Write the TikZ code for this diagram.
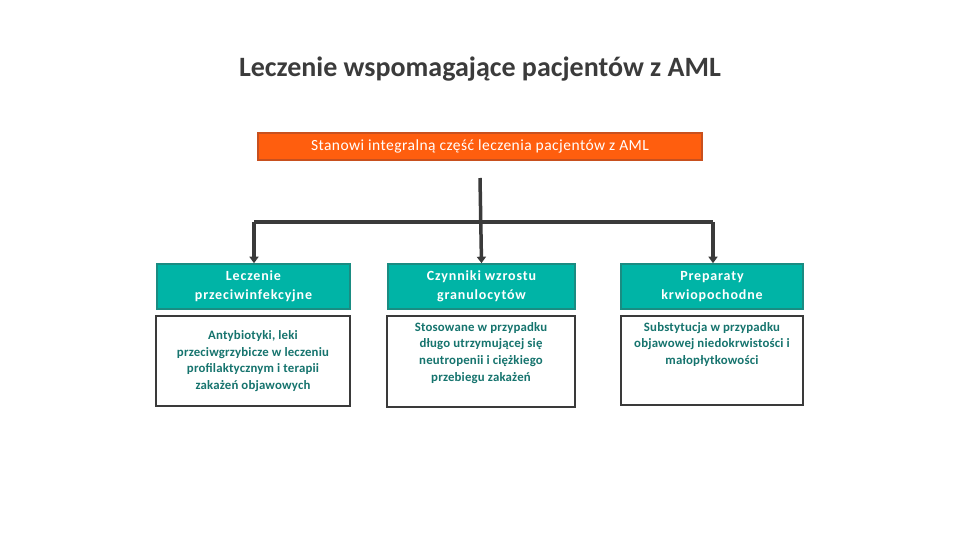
\documentclass[tikz,border=0pt]{standalone}
\usepackage{fontspec}
\setmainfont{Carlito}
\newfontfamily\hdfont[LetterSpace=6]{Carlito}
\newfontfamily\orfont[LetterSpace=3]{Carlito}
\newfontfamily\bdfont[LetterSpace=1.5]{Carlito}
\usetikzlibrary{arrows.meta}
\definecolor{titlegray}{HTML}{3B3B3B}
\definecolor{orfill}{HTML}{FF5E0E}
\definecolor{ordraw}{HTML}{C8501E}
\definecolor{tealfill}{HTML}{00B4A6}
\definecolor{tealdraw}{HTML}{1A8C82}
\definecolor{tealtext}{HTML}{16746E}
\definecolor{linegray}{HTML}{3A3A3A}
\tikzset{
  head/.style={fill=tealfill, draw=tealdraw, line width=1.6pt, text=white, align=center, font=\hdfont\fontsize{14}{19}\selectfont\bfseries, inner sep=0pt},
  body/.style={fill=white, draw=linegray, line width=1.8pt, inner sep=0pt},
  bodytext/.style={text=tealtext, align=center, font=\bdfont\fontsize{12.8}{16.8}\selectfont\bfseries, inner sep=0pt},
  conn/.style={draw=linegray, line width=3.5pt, -{Triangle[length=6.5pt,width=9pt]}},
}
\begin{document}
\begin{tikzpicture}[x=1pt,y=-1pt]
\useasboundingbox (0,0) rectangle (960,540);
\node[font=\fontsize{28}{32}\selectfont\bfseries, text=titlegray] (title) at (480,69) {Leczenie wspomagające pacjentów z AML};
\node[fill=orfill, draw=ordraw, line width=2pt, minimum width=444pt, minimum height=27pt, inner sep=0pt, text=white, font=\orfont\fontsize{15.5}{18}\selectfont] (top) at (480,146.5) {Stanowi integralną część leczenia pacjentów z AML};
% teal headers
\node[head, minimum width=193pt, minimum height=45pt] (h1) at (253.5,286.5) {Leczenie\\przeciwinfekcyjne};
\node[head, minimum width=187pt, minimum height=45pt] (h2) at (481.5,286.5) {Czynniki wzrostu\\granulocytów};
\node[head, minimum width=182pt, minimum height=45pt] (h3) at (712,286.5) {Preparaty\\krwiopochodne};
% bodies
\node[body, minimum width=194pt, minimum height=90pt] (b1) at (253,361) {};
\node[bodytext] (t1) at (b1.center) {Antybiotyki, leki\\przeciwgrzybicze w leczeniu\\profilaktycznym i terapii\\zakażeń objawowych};
\node[body, minimum width=188pt, minimum height=91pt] (b2) at (481,361.5) {};
\node[bodytext, anchor=north] (t2) at (481,322) {Stosowane w przypadku\\długo utrzymującej się\\neutropenii i ciężkiego\\przebiegu zakażeń};
\node[body, minimum width=182pt, minimum height=89pt] (b3) at (712,360.5) {};
\node[bodytext, anchor=north] (t3) at (712,322) {Substytucja w przypadku\\objawowej niedokrwistości i\\małopłytkowości};
% connectors
\coordinate (src) at (480,178);
\coordinate (jl) at (254,222);
\coordinate (jr) at (713,222);
\draw[linegray, line width=3.5pt] (jl) -- (jr);
\draw[conn] (src) -- (h2.north);
\draw[conn] (jl) -- (jl |- h1.north);
\draw[conn] (jr) -- (jr |- h3.north);
\end{tikzpicture}
\end{document}
